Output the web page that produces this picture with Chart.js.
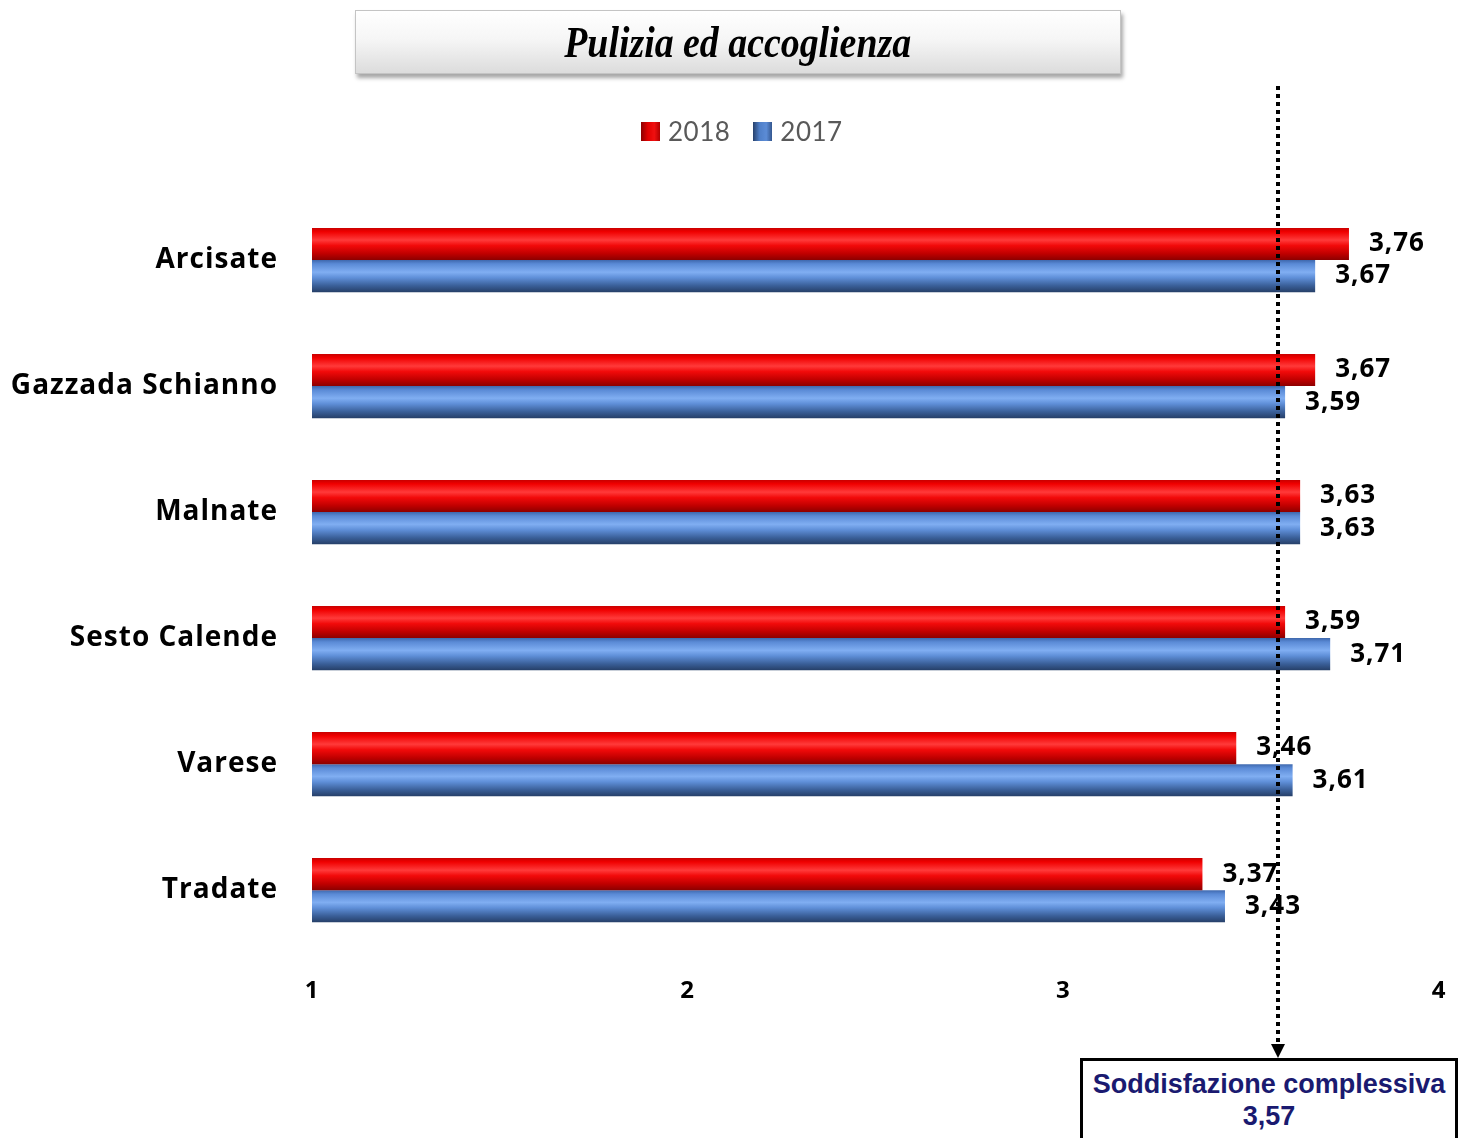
<!DOCTYPE html>
<html>
<head>
<meta charset="utf-8">
<script src="https://cdn.jsdelivr.net/npm/chart.js@4/dist/chart.umd.min.js"></script>
<style>
  html, body { margin: 0; padding: 0; background: #fff; overflow: hidden; }
  #wrap { position: relative; width: 1458px; height: 1138px; overflow: hidden; }
  #title {
    position: absolute; left: 355px; top: 10px; width: 764px; height: 62px;
    background: linear-gradient(#ffffff, #f6f6f6 45%, #dcdcdc);
    border: 1px solid #c4c4c4;
    box-shadow: 2px 4px 4px rgba(0,0,0,0.35);
    text-align: center; line-height: 64px;
    font-family: "Liberation Serif", serif; font-style: italic; font-weight: bold;
    font-size: 44px; color: #000;
  }
  #title span { display: inline-block; transform: scaleX(0.86); }
  #legend {
    position: absolute; left: 641px; top: 114px; height: 34px;
    display: flex; align-items: center;
    font-family: Lato, sans-serif; font-size: 26px; color: #595959; letter-spacing: 0.5px;
  }
  #legend .item { display: flex; align-items: center; margin-right: 23px; }
  #legend .box { width: 19px; height: 19px; margin-right: 8px; }
  #avgbox {
    position: absolute; left: 1080px; top: 1058px; width: 372px; height: 74px;
    border: 3px solid #000; background: #fff;
    text-align: center; color: #1a1a70;
    font-family: "Liberation Sans", Arial, sans-serif; font-weight: bold; font-size: 27px;
    line-height: 32px; padding-top: 7px; box-sizing: content-box;
  }
</style>
</head>
<body>
<div id="wrap">
  <canvas id="chart" width="1470" height="1138"></canvas>
  <div id="title"><span>Pulizia ed accoglienza</span></div>
  <div id="legend"></div>
  <div id="avgbox"><div>Soddisfazione complessiva</div><div id="avgval"></div></div>
</div>
<script>
var categories = ["Arcisate", "Gazzada Schianno", "Malnate", "Sesto Calende", "Varese", "Tradate"];
var seriesNames = ["2018", "2017"];
var values2018 = [3.76, 3.67, 3.63, 3.59, 3.46, 3.37];
var values2017 = [3.67, 3.59, 3.63, 3.71, 3.61, 3.43];
var xTicks = [1, 2, 3, 4];
var overall = 3.57;

var catPct = 0.51;

function fmt(v) {
  return v.toFixed(2).replace('.', ',');
}
document.getElementById('avgval').textContent = fmt(overall);

var legendSwatches = [
  'linear-gradient(90deg, #8c0000, #e00000 35%, #f01010 70%, #b00000)',
  'linear-gradient(90deg, #27416c, #4f7fc8 35%, #5c8cd6 70%, #34578f)'
];
var legendEl = document.getElementById('legend');
seriesNames.forEach(function(name, i) {
  var item = document.createElement('div');
  item.className = 'item';
  var box = document.createElement('div');
  box.className = 'box';
  box.style.background = legendSwatches[i];
  var txt = document.createElement('span');
  txt.textContent = name;
  item.appendChild(box);
  item.appendChild(txt);
  legendEl.appendChild(item);
});

// vertical shaded gradient for each bar, built from the y scale
function barFill(stops, solid, first) {
  return function(c) {
    var chart = c.chart;
    var y = chart.scales && chart.scales.y;
    if (!y || c.dataIndex === undefined) return solid;
    var center = y.getPixelForValue(c.dataIndex);
    var step = y.getPixelForValue(1) - y.getPixelForValue(0);
    if (!isFinite(center) || !isFinite(step)) return solid;
    var h = step * catPct / 2;
    var top = first ? center - h : center;
    var g = chart.ctx.createLinearGradient(0, top, 0, top + h);
    stops.forEach(function(s) { g.addColorStop(s[0], s[1]); });
    return g;
  };
}

var redStops = [[0, '#c80000'], [0.12, '#f00000'], [0.38, '#ff3a3a'], [0.55, '#f20a0a'], [0.8, '#c00000'], [1, '#8c0000']];
var blueStops = [[0, '#3f68ad'], [0.12, '#5a8ad6'], [0.38, '#80aef2'], [0.55, '#5f8fd8'], [0.8, '#3a5f98'], [1, '#263f68']];

// wider letter spacing, like the original's rendering
var spacing = {
  id: 'spacing',
  beforeDraw: function(chart) { chart.ctx.letterSpacing = '1px'; },
  afterDraw: function(chart) { chart.ctx.letterSpacing = '0px'; }
};

var valueLabels = {
  id: 'valueLabels',
  afterDatasetsDraw: function(chart) {
    var ctx = chart.ctx;
    ctx.save();
    ctx.font = 'bold 26px "Open Sans"';
    ctx.fillStyle = '#000';
    ctx.textAlign = 'left';
    ctx.textBaseline = 'middle';
    chart.data.datasets.forEach(function(ds, di) {
      chart.getDatasetMeta(di).data.forEach(function(el, i) {
        ctx.fillText(fmt(ds.data[i]), el.x + 20, el.y);
      });
    });
    ctx.restore();
  }
};

var avgLine = {
  id: 'avgLine',
  afterDraw: function(chart) {
    var ctx = chart.ctx;
    var x = Math.round(chart.scales.x.getPixelForValue(overall));
    ctx.save();
    ctx.strokeStyle = '#000';
    ctx.lineWidth = 4;
    ctx.setLineDash([4, 4]);
    ctx.beginPath();
    ctx.moveTo(x, 86);
    ctx.lineTo(x, 1046);
    ctx.stroke();
    ctx.setLineDash([]);
    ctx.fillStyle = '#000';
    ctx.beginPath();
    ctx.moveTo(x - 7, 1044);
    ctx.lineTo(x + 7, 1044);
    ctx.lineTo(x, 1058);
    ctx.closePath();
    ctx.fill();
    ctx.restore();
  }
};

new Chart(document.getElementById('chart').getContext('2d'), {
  type: 'bar',
  data: {
    labels: categories,
    datasets: [
      {
        label: seriesNames[0],
        data: values2018,
        backgroundColor: barFill(redStops, '#e00000', true),
        borderWidth: 0
      },
      {
        label: seriesNames[1],
        data: values2017,
        backgroundColor: barFill(blueStops, '#4f7fc8', false),
        borderWidth: 0
      }
    ]
  },
  options: {
    indexAxis: 'y',
    responsive: false,
    animation: false,
    devicePixelRatio: 1,
    categoryPercentage: catPct,
    barPercentage: 1,
    layout: { padding: { left: 0, right: 0, top: 197, bottom: 108 } },
    plugins: {
      tooltip: { enabled: false },
      legend: { display: false }
    },
    scales: {
      x: {
        min: 1,
        max: 4,
        afterBuildTicks: function(axis) {
          axis.ticks = xTicks.map(function(v) { return { value: v }; });
        },
        grid: { display: false, drawTicks: false },
        border: { display: false },
        ticks: {
          color: '#000',
          padding: 24,
          font: { family: 'Open Sans', size: 24, weight: 'bold' }
        }
      },
      y: {
        grid: { display: false, drawTicks: false },
        border: { display: false },
        afterFit: function(axis) { axis.width = 312; },
        ticks: {
          color: '#000',
          padding: 34,
          font: { family: 'Open Sans', size: 28, weight: 'bold' }
        }
      }
    }
  },
  plugins: [spacing, valueLabels, avgLine]
});
</script>
</body>
</html>
